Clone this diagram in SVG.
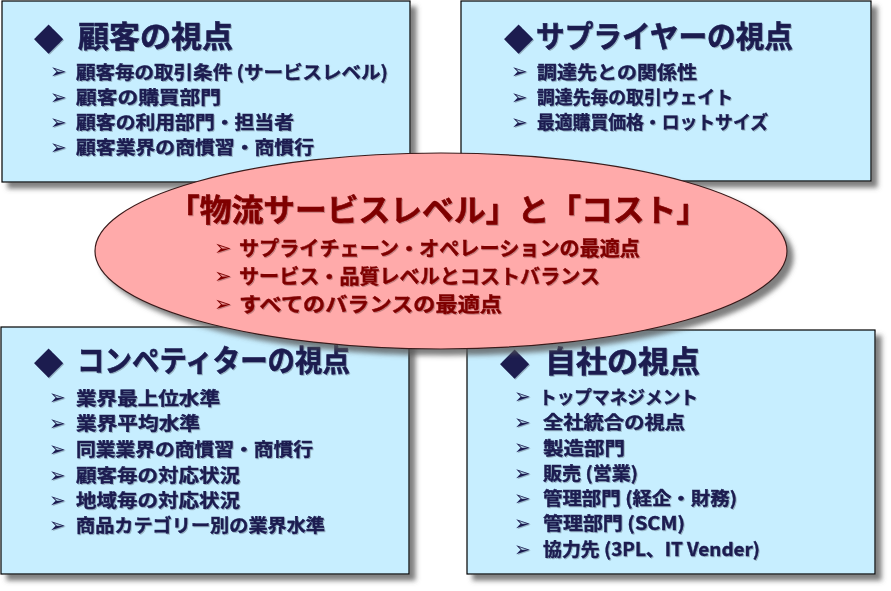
<svg xmlns="http://www.w3.org/2000/svg" width="891" height="591" viewBox="0 0 891 591">
<defs>
<filter id="sh" x="-10%" y="-10%" width="125%" height="130%">
<feDropShadow dx="6" dy="6" stdDeviation="2.5" flood-color="#555" flood-opacity="0.75"/>
</filter>
<filter id="tsh" x="-5%" y="-20%" width="110%" height="150%">
<feDropShadow dx="1" dy="1" stdDeviation="0.6" flood-color="#000" flood-opacity="0.25"/>
</filter>
</defs>
<style>
.box{fill:#C7EEFF;stroke:#000;stroke-width:1.2}
.ell{fill:#FFAAAA;stroke:#3a1a1a;stroke-width:1.2}
text{font-family:"Noto Sans CJK JP","Noto Sans CJK SC",sans-serif;font-weight:bold}
.t{fill:#1B1B50;stroke:#1B1B50;stroke-width:0.6;font-size:30px}
.i{fill:#1B1B50;stroke:#1B1B50;stroke-width:0.4;font-size:18px}
.dia{fill:#1B1B50;font-family:"DejaVu Sans",sans-serif;font-size:38px;font-weight:normal}
.ar{fill:#1B1B50;font-family:"DejaVu Sans",sans-serif;font-size:20px;font-weight:normal}
.et{fill:#7F0000;stroke:#7F0000;stroke-width:0.6;font-size:31px}
.ei{fill:#7F0000;stroke:#7F0000;stroke-width:0.4;font-size:20px}
.ear{fill:#7F0000;font-family:"DejaVu Sans",sans-serif;font-size:21px;font-weight:normal}
.tx{filter:url(#tsh)}
</style>

<g id="customer">
<rect class="box" x="2" y="1" width="408" height="181" filter="url(#sh)"/>
<g class="tx">
<text class="dia" x="34" y="49">◆</text>
<text class="t" x="78" y="46.5" textLength="155" lengthAdjust="spacingAndGlyphs">顧客の視点</text>
<text class="ar" x="50" y="78">➢</text>
<text class="i" x="76" y="78.5" textLength="312" lengthAdjust="spacingAndGlyphs">顧客毎の取引条件 (サービスレベル)</text>
<text class="ar" x="50" y="103.5">➢</text>
<text class="i" x="76" y="104" textLength="145" lengthAdjust="spacingAndGlyphs">顧客の購買部門</text>
<text class="ar" x="50" y="128.5">➢</text>
<text class="i" x="76" y="129" textLength="218" lengthAdjust="spacingAndGlyphs">顧客の利用部門・担当者</text>
<text class="ar" x="50" y="153.5">➢</text>
<text class="i" x="76" y="154" textLength="238" lengthAdjust="spacingAndGlyphs">顧客業界の商慣習・商慣行</text>
</g>
</g>

<g id="supplier">
<rect class="box" x="461" y="1" width="410" height="180" filter="url(#sh)"/>
<g class="tx">
<text class="dia" x="504" y="49">◆</text>
<text class="t" x="536" y="46.5" textLength="257" lengthAdjust="spacingAndGlyphs">サプライヤーの視点</text>
<text class="ar" x="511" y="78">➢</text>
<text class="i" x="537" y="78.5" textLength="160" lengthAdjust="spacingAndGlyphs">調達先との関係性</text>
<text class="ar" x="511" y="103.5">➢</text>
<text class="i" x="537" y="104" textLength="196" lengthAdjust="spacingAndGlyphs">調達先毎の取引ウェイト</text>
<text class="ar" x="511" y="128.5">➢</text>
<text class="i" x="537" y="129" textLength="231" lengthAdjust="spacingAndGlyphs">最適購買価格・ロットサイズ</text>
</g>
</g>

<g id="competitor">
<rect class="box" x="1" y="327" width="408" height="247" filter="url(#sh)"/>
<g class="tx">
<text class="dia" x="34" y="373">◆</text>
<text class="t" x="77" y="370.5" textLength="273" lengthAdjust="spacingAndGlyphs">コンペティターの視点</text>
<text class="ar" x="49" y="404">➢</text>
<text class="i" x="76" y="404.5" textLength="144" lengthAdjust="spacingAndGlyphs">業界最上位水準</text>
<text class="ar" x="49" y="429.5">➢</text>
<text class="i" x="76" y="430" textLength="124" lengthAdjust="spacingAndGlyphs">業界平均水準</text>
<text class="ar" x="49" y="455.5">➢</text>
<text class="i" x="76" y="456" textLength="237" lengthAdjust="spacingAndGlyphs">同業業界の商慣習・商慣行</text>
<text class="ar" x="49" y="481.5">➢</text>
<text class="i" x="76" y="482" textLength="164" lengthAdjust="spacingAndGlyphs">顧客毎の対応状況</text>
<text class="ar" x="49" y="506.5">➢</text>
<text class="i" x="76" y="507" textLength="164" lengthAdjust="spacingAndGlyphs">地域毎の対応状況</text>
<text class="ar" x="49" y="531.5">➢</text>
<text class="i" x="76" y="532" textLength="249" lengthAdjust="spacingAndGlyphs">商品カテゴリー別の業界水準</text>
</g>
</g>

<g id="company">
<rect class="box" x="467" y="330" width="408" height="244" filter="url(#sh)"/>
<g class="tx">
<text class="dia" x="500" y="374">◆</text>
<text class="t" x="545" y="371.5" textLength="155" lengthAdjust="spacingAndGlyphs">自社の視点</text>
<text class="ar" x="514" y="403">➢</text>
<text class="i" x="539" y="403.5" textLength="159" lengthAdjust="spacingAndGlyphs">トップマネジメント</text>
<text class="ar" x="514" y="428.5">➢</text>
<text class="i" x="543" y="429" textLength="142" lengthAdjust="spacingAndGlyphs">全社統合の視点</text>
<text class="ar" x="514" y="454">➢</text>
<text class="i" x="543" y="454.5" textLength="82" lengthAdjust="spacingAndGlyphs">製造部門</text>
<text class="ar" x="514" y="479.5">➢</text>
<text class="i" x="543" y="480" textLength="95" lengthAdjust="spacingAndGlyphs">販売 (営業)</text>
<text class="ar" x="514" y="504.5">➢</text>
<text class="i" x="543" y="505" textLength="194" lengthAdjust="spacingAndGlyphs">管理部門 (経企・財務)</text>
<text class="ar" x="514" y="529.5">➢</text>
<text class="i" x="543" y="530" textLength="142" lengthAdjust="spacingAndGlyphs">管理部門 (SCM)</text>
<text class="ar" x="514" y="555.5">➢</text>
<text class="i" x="543" y="556" textLength="217" lengthAdjust="spacingAndGlyphs">協力先 (3PL、IT Vender)</text>
</g>
</g>

<g id="center">
<ellipse class="ell" cx="441" cy="251" rx="346" ry="98" filter="url(#sh)"/>
<g class="tx">
<text class="et" x="168" y="221" textLength="540" lengthAdjust="spacingAndGlyphs">「物流サービスレベル」と「コスト」</text>
<text class="ear" x="214" y="255">➢</text>
<text class="ei" x="239" y="255.5" textLength="401" lengthAdjust="spacingAndGlyphs">サプライチェーン・オペレーションの最適点</text>
<text class="ear" x="214" y="283">➢</text>
<text class="ei" x="239" y="283.5" textLength="361" lengthAdjust="spacingAndGlyphs">サービス・品質レベルとコストバランス</text>
<text class="ear" x="214" y="311">➢</text>
<text class="ei" x="239" y="311.5" textLength="263" lengthAdjust="spacingAndGlyphs">すべてのバランスの最適点</text>
</g>
</g>

<g id="connectors"/>
</svg>
